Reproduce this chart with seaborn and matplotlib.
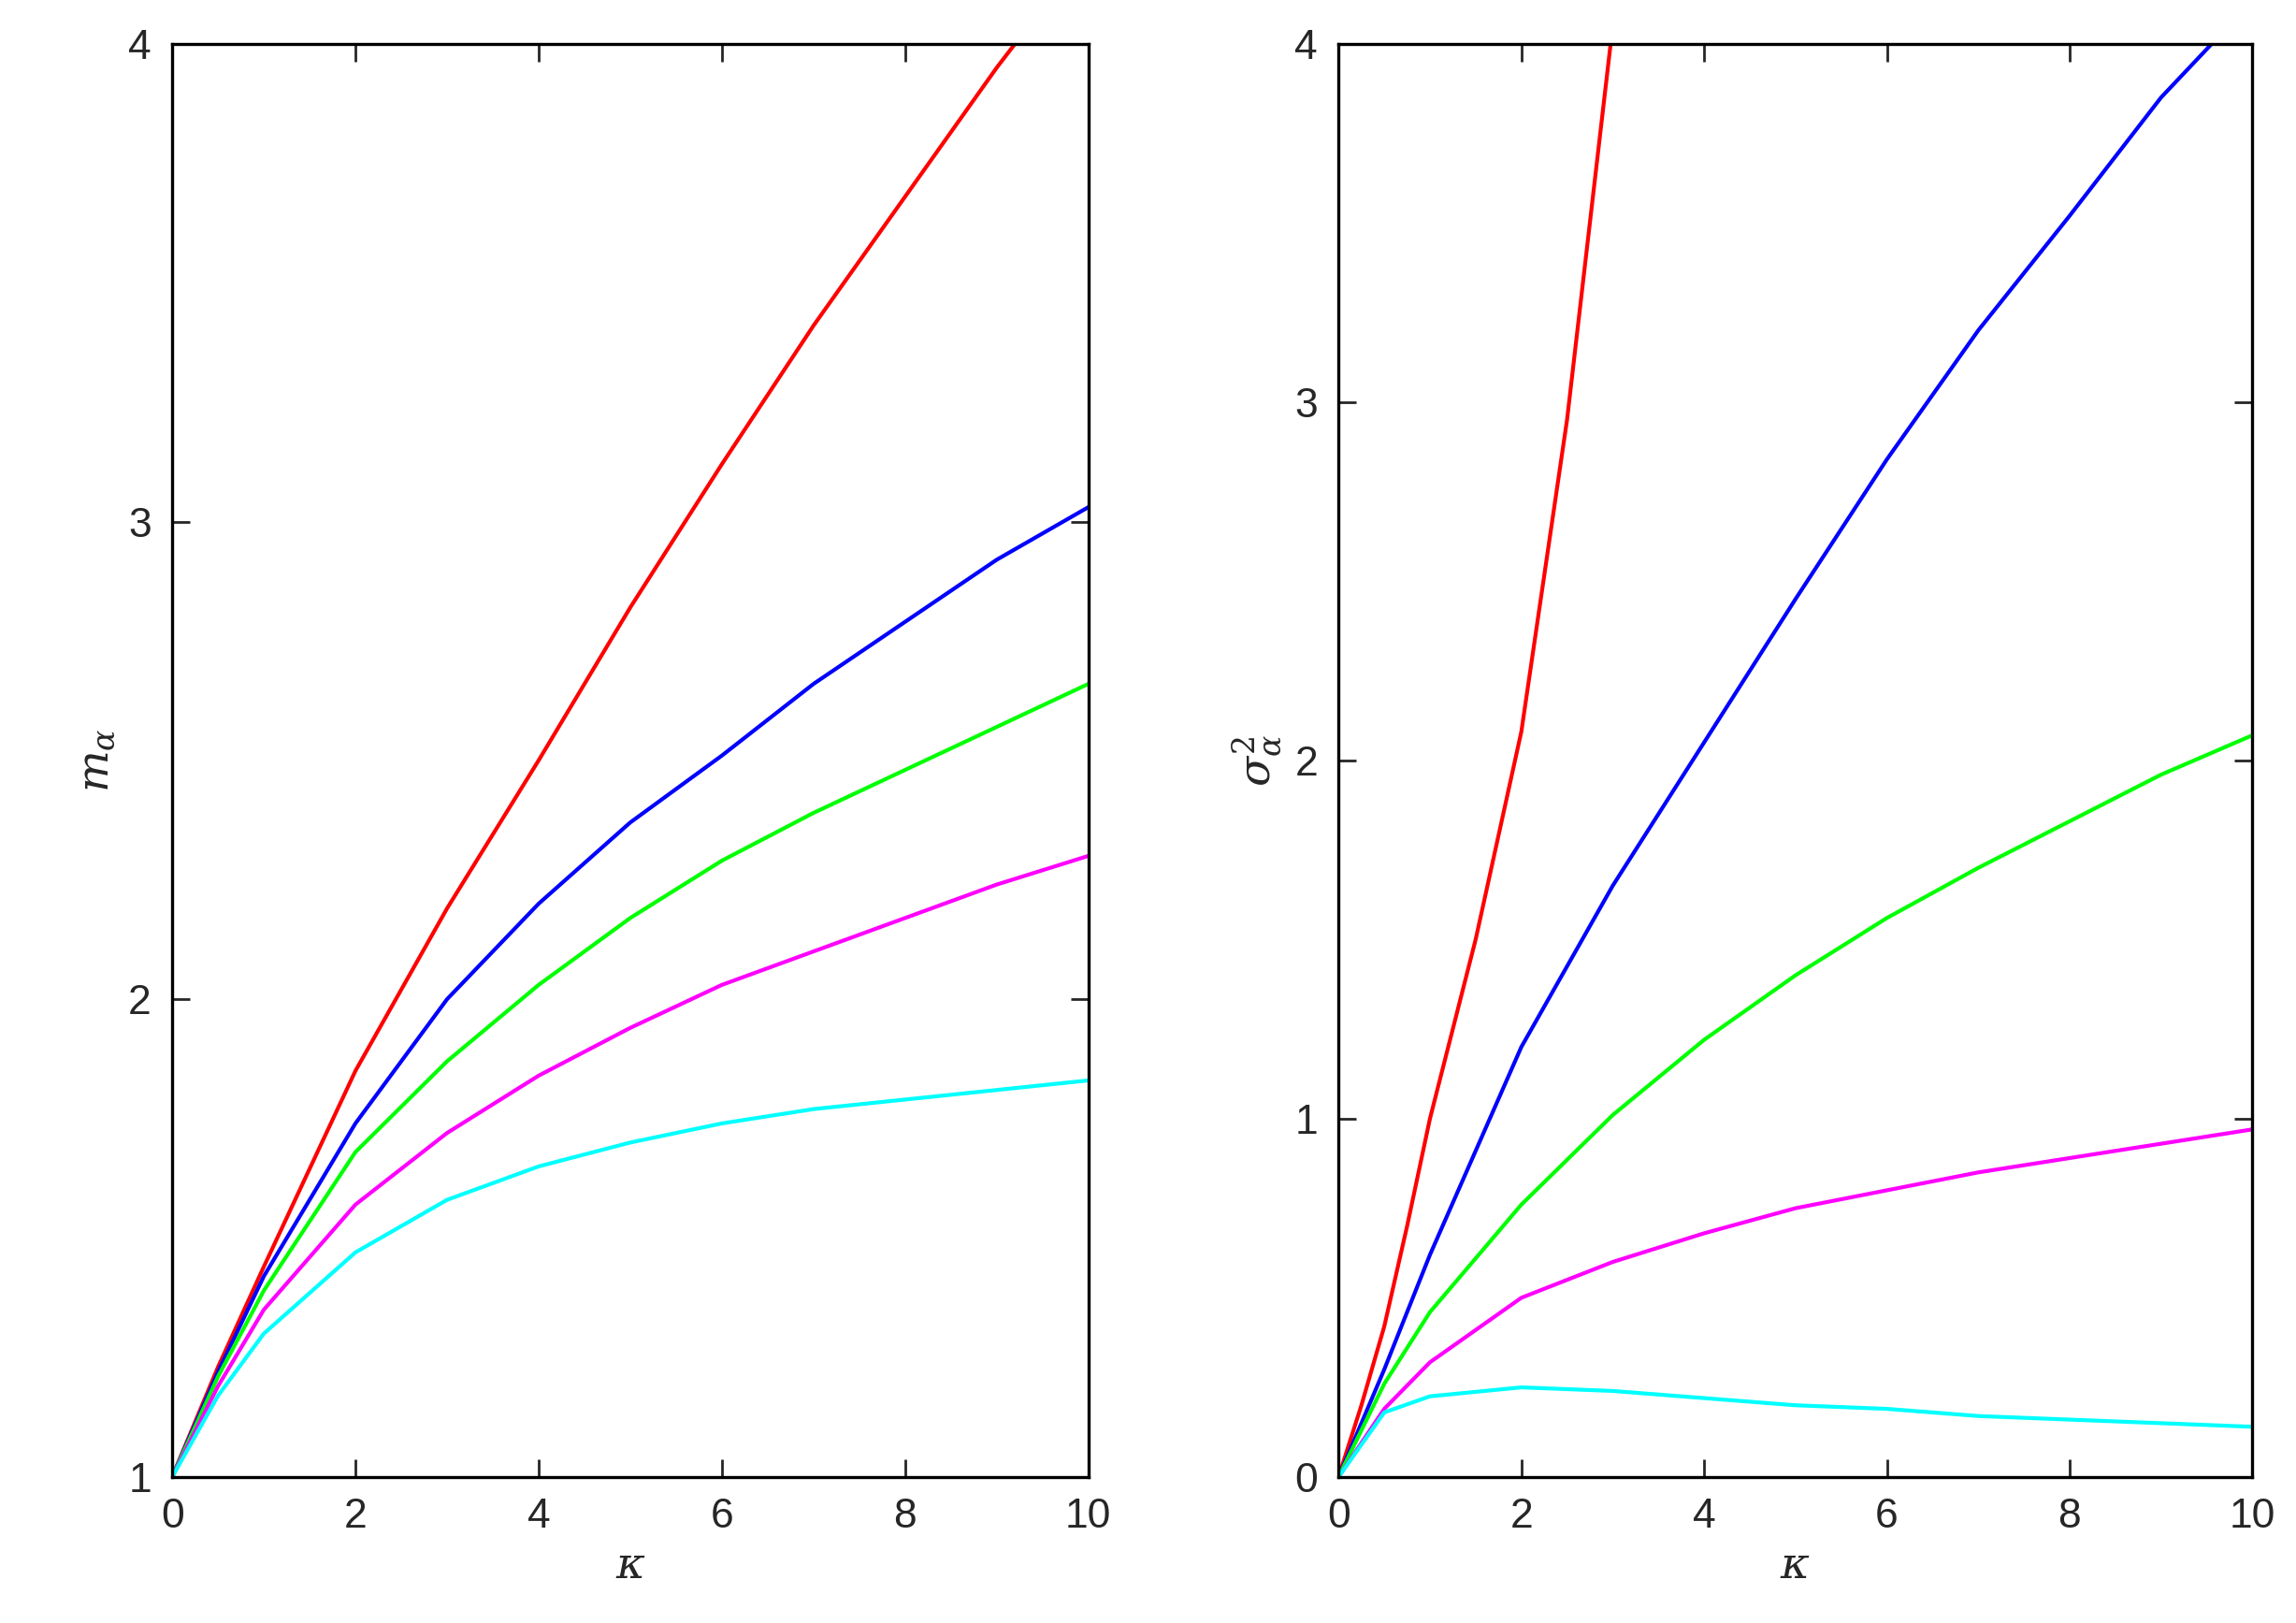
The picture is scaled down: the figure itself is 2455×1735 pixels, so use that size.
import matplotlib
matplotlib.use("Agg")
import matplotlib.pyplot as plt
import seaborn as sns

# values
kappa = [0, 0.5, 1, 2, 3, 4, 5, 6, 7, 8, 9, 10]
m_red = [1, 1.23, 1.44, 1.85, 2.19, 2.5, 2.82, 3.12, 3.41, 3.68, 3.95, 4.2]
m_blue = [1, 1.22, 1.42, 1.74, 2.0, 2.2, 2.37, 2.51, 2.66, 2.79, 2.92, 3.03]
m_green = [1, 1.21, 1.39, 1.68, 1.87, 2.03, 2.17, 2.29, 2.39, 2.48, 2.57, 2.66]
m_magenta = [1, 1.19, 1.35, 1.57, 1.72, 1.84, 1.94, 2.03, 2.1, 2.17, 2.24, 2.3]
m_cyan = [1, 1.17, 1.3, 1.47, 1.58, 1.65, 1.7, 1.74, 1.77, 1.79, 1.81, 1.83]

kappa_red = [0, 0.25, 0.5, 0.75, 1, 1.5, 2, 2.5, 3, 3.2]
s_red = [0, 0.2, 0.42, 0.7, 1.0, 1.5, 2.08, 2.95, 4.05, 4.5]
s_blue = [0, 0.3, 0.62, 1.2, 1.65, 2.05, 2.45, 2.84, 3.2, 3.52, 3.85, 4.12]
s_green = [0, 0.26, 0.46, 0.76, 1.01, 1.22, 1.4, 1.56, 1.7, 1.83, 1.96, 2.07]
s_magenta = [0, 0.19, 0.32, 0.5, 0.6, 0.68, 0.75, 0.8, 0.85, 0.89, 0.93, 0.97]
s_cyan = [0, 0.18, 0.225, 0.25, 0.24, 0.22, 0.2, 0.19, 0.17, 0.16, 0.15, 0.14]

colors = ["#ff0000", "#0000ff", "#00ff00", "#ff00ff", "#00ffff"]

sns.set_style("ticks")
plt.rcParams["font.family"] = ["Liberation Sans", "DejaVu Sans"]
plt.rcParams["mathtext.fontset"] = "dejavuserif"

fig = plt.figure(figsize=(12.275, 8.675), dpi=200)
ax1 = fig.add_axes([0.075, 0.09, 0.399, 0.883])
ax2 = fig.add_axes([0.583, 0.09, 0.398, 0.883])

left_series = [m_red, m_blue, m_green, m_magenta, m_cyan]
for ys, c in zip(left_series, colors):
    sns.lineplot(x=kappa, y=ys, ax=ax1, color=c, linewidth=1.5)

sns.lineplot(x=kappa_red, y=s_red, ax=ax2, color=colors[0], linewidth=1.5)
for ys, c in zip([s_blue, s_green, s_magenta, s_cyan], colors[1:]):
    sns.lineplot(x=kappa, y=ys, ax=ax2, color=c, linewidth=1.5)

ax1.set_ylim(1, 4)
ax1.set_yticks([1, 2, 3, 4])
ax1.set_ylabel(r"$m_\alpha$", fontsize=17)
ax2.set_ylim(0, 4)
ax2.set_yticks([0, 1, 2, 3, 4])
ax2.set_ylabel(r"$\sigma^2_\alpha$", fontsize=17)

for ax in (ax1, ax2):
    ax.set_xlim(0, 10)
    ax.set_xticks([0, 2, 4, 6, 8, 10])
    ax.set_xlabel(r"$\kappa$", fontsize=17)
    ax.tick_params(direction="in", top=True, right=True, labelsize=16, length=7, width=1, pad=8)
    for sp in ax.spines.values():
        sp.set_visible(True)
        sp.set_linewidth(1.2)
        sp.set_color("black")

fig.savefig("out.png", dpi=200)
